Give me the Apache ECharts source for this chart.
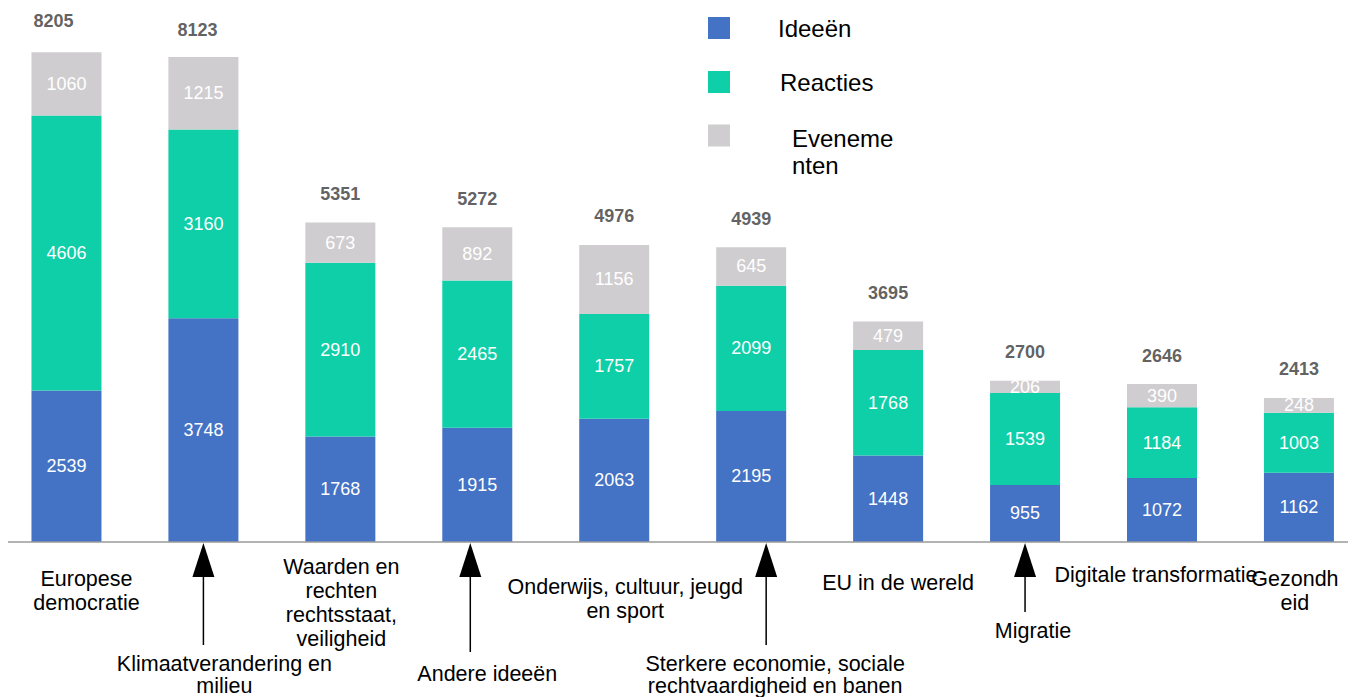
<!DOCTYPE html>
<html><head><meta charset="utf-8">
<script src="https://cdn.jsdelivr.net/npm/echarts@6/dist/echarts.min.js"></script>
<style>
html,body{margin:0;padding:0;background:#fff;width:1355px;height:697px;overflow:hidden;position:relative}
#c{position:absolute;left:-12px;top:0;width:1380px;height:697px}
</style>
</head><body><div id="c"></div>
<script>
// ---- data ----
const categories = [
  'Europese\ndemocratie',
  'Klimaatverandering en\nmilieu',
  'Waarden en\nrechten\nrechtsstaat,\nveiligheid',
  'Andere ideeën',
  'Onderwijs, cultuur, jeugd\nen sport',
  'Sterkere economie, sociale\nrechtvaardigheid en banen',
  'EU in de wereld',
  'Migratie',
  'Digitale transformatie',
  'Gezondh\neid'
];
const seriesNames = ['Ideeën', 'Reacties', 'Evenementen'];
const ideeen      = [2539, 3748, 1768, 1915, 2063, 2195, 1448, 955, 1072, 1162];
const reacties    = [4606, 3160, 2910, 2465, 1757, 2099, 1768, 1539, 1184, 1003];
const evenementen = [1060, 1215, 673, 892, 1156, 645, 479, 206, 390, 248];
const totals      = [8205, 8123, 5351, 5272, 4976, 4939, 3695, 2700, 2646, 2413];

// ---- styling / placement (not data) ----
const FONT = 'Liberation Sans, Arial, sans-serif';
const colors = ['#4472C4', '#0ECFA8', '#CFCDCF'];
const OX = 12; // container is shifted 12px left of the page
// category label placement relative to category centre: [dx, centreY, lineHeight]
const labelPlace = [[20,591,24],[21,675,22],[1,602.5,24],[10,674,24],[11,599,24],[24,675,22],[10,583,24],[8,631,24],[-6,575,24],[-4,591,24]];
// arrows: [categoryIndex, dx, bottomY]
const arrows = [[1,0,645],[3,-7,652],[5,15,645],[7,0,612]];
// total label offsets per bar
const totalOffsets = [[-13,-3],[-6,1],[0,0],[0,0],[0,0],[0,0],[0,0],[0,0],[0,0],[0,0]];

const chart = echarts.init(document.getElementById('c'), null, {renderer: 'svg'});
const valLabel = {show: true, position: 'inside', color: '#fff', fontSize: 18, fontFamily: FONT};
const barSeries = [ideeen, reacties, evenementen].map((d, i) => ({
  name: seriesNames[i], type: 'bar', stack: 'tot', data: d, barWidth: 70,
  itemStyle: {color: colors[i]}, label: valLabel
}));

chart.setOption({
  animation: false,
  backgroundColor: '#fff',
  grid: {left: OX - 2, top: 4.7, width: 1369.4, height: 537.3},
  xAxis: {type: 'category', data: categories, axisLine: {show: false}, axisTick: {show: false}, axisLabel: {show: false}},
  yAxis: {type: 'value', min: 0, max: 9000, show: false, splitLine: {show: false}},
  legend: [
    {data: [{name: 'Ideeën'}, {name: 'Reacties', textStyle: {padding: [0,0,0,45]}}],
     orient: 'vertical', left: OX + 708, top: 16, padding: 0, itemWidth: 22, itemHeight: 22, itemGap: 30,
     icon: 'rect', selectedMode: false,
     textStyle: {fontSize: 24, lineHeight: 22, color: '#000', fontFamily: FONT, padding: [0,0,0,43]}},
    {data: ['Evenementen'], formatter: () => '{s| }\n{t|Eveneme}\n{t|nten}',
     orient: 'vertical', left: OX + 708, top: 92.5, padding: 0, itemWidth: 22, itemHeight: 22,
     icon: 'rect', selectedMode: false,
     textStyle: {fontSize: 24, color: '#000', fontFamily: FONT, padding: [0,0,0,57],
       rich: {s: {fontSize: 10, lineHeight: 32, height: 32}, t: {fontSize: 24, lineHeight: 27, color: '#000', fontFamily: FONT}}}}
  ],
  series: barSeries.concat([{
    name: 'Totaal', type: 'scatter', symbolSize: 1, z: 10,
    data: totals.map((v, i) => ({value: v, label: {offset: totalOffsets[i]}})),
    itemStyle: {color: 'rgba(0,0,0,0)'},
    label: {show: true, position: 'top', distance: 19, color: '#383838', fontWeight: 'bold', fontSize: 18, fontFamily: FONT}
  }])
});

// decorations: axis line, category labels, arrows (positions via the chart's axes)
const y0 = chart.convertToPixel({seriesIndex: 0}, [0, 0])[1];
const g = [];
g.push({type: 'line', shape: {x1: OX + 8, y1: y0, x2: OX + 1348, y2: y0}, style: {stroke: '#9a9a9a', lineWidth: 1.5}, z: 5});
categories.forEach((c, i) => {
  const x = chart.convertToPixel({seriesIndex: 0}, [i, 0])[0];
  const p = labelPlace[i];
  g.push({type: 'text', x: x + p[0], y: p[1],
    style: {text: c, fill: '#000', font: '21.5px ' + FONT, lineHeight: p[2], align: 'center', verticalAlign: 'middle'}});
});
arrows.forEach(([i, dx, yb]) => {
  const x = chart.convertToPixel({seriesIndex: 0}, [i, 0])[0] + dx;
  g.push({type: 'polygon', shape: {points: [[x, y0 + 1], [x - 11, y0 + 35], [x + 11, y0 + 35]]}, style: {fill: '#000'}});
  g.push({type: 'line', shape: {x1: x, y1: y0 + 34, x2: x, y2: yb}, style: {stroke: '#000', lineWidth: 1.5}});
});
chart.setOption({graphic: g});
</script></body></html>
